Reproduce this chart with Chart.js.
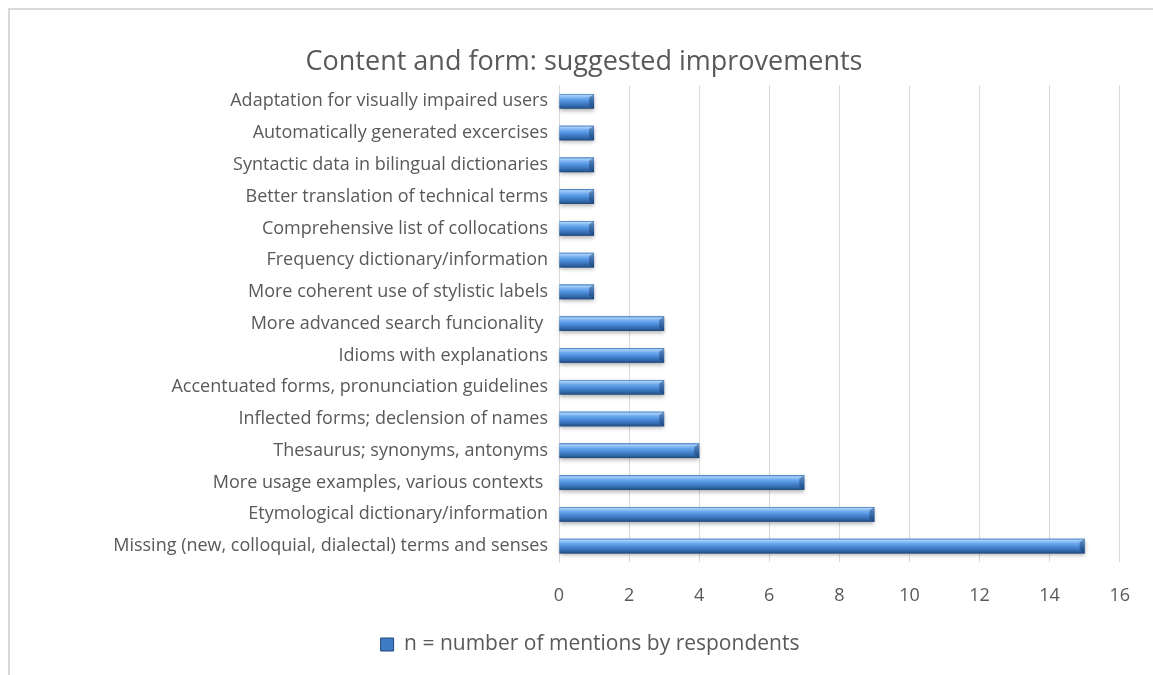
<!DOCTYPE html>
<html>
<head>
<meta charset="utf-8">
<script src="https://cdn.jsdelivr.net/npm/chart.js@4.4.1/dist/chart.umd.min.js"></script>
<style>
  html, body { margin: 0; padding: 0; background: #fff; }
  #wrap { position: relative; width: 1153px; height: 675px; }
  #frame { position: absolute; left: 8px; top: 8px; right: 0; bottom: 0; border-top: 2px solid #d9d9d9; border-left: 2px solid #d9d9d9; }
  canvas { position: absolute; left: 0; top: 0; }
</style>
</head>
<body>
<div id="wrap">
  <div id="frame"></div>
  <canvas id="improvementsChart" width="1153" height="675"></canvas>
</div>
<script>
const categories = [
    "Adaptation for visually impaired users",
    "Automatically generated excercises",
    "Syntactic data in bilingual dictionaries",
    "Better translation of technical terms",
    "Comprehensive list of collocations",
    "Frequency dictionary/information",
    "More coherent use of stylistic labels",
    "More advanced search funcionality ",
    "Idioms with explanations",
    "Accentuated forms, pronunciation guidelines",
    "Inflected forms; declension of names",
    "Thesaurus; synonyms, antonyms",
    "More usage examples, various contexts ",
    "Etymological dictionary/information",
    "Missing (new, colloquial, dialectal) terms and senses"
];
const mentions = [1, 1, 1, 1, 1, 1, 1, 3, 3, 3, 3, 4, 7, 9, 15];
const xTicks = [0, 2, 4, 6, 8, 10, 12, 14, 16];
const seriesLabel = "n = number of mentions by respondents";

const textColor = "#595959";
const fontFamily = "'Open Sans', 'Liberation Sans', sans-serif";

// gives the flat bars an Excel-like bevel
const bevelBars = {
    id: 'bevelBars',
    afterDatasetsDraw(chart) {
        const ctx = chart.ctx;
        chart.getDatasetMeta(0).data.forEach(bar => {
            const left = Math.min(bar.base, bar.x);
            const right = Math.max(bar.base, bar.x);
            const top = bar.y - bar.height / 2;
            const h = bar.height;
            const w = right - left;

            ctx.save();
            ctx.shadowColor = 'rgba(0,0,0,0.3)';
            ctx.shadowBlur = 4;
            ctx.shadowOffsetY = 2;
            const g = ctx.createLinearGradient(0, top, 0, top + h);
            g.addColorStop(0, '#3d78c0');
            g.addColorStop(0.1, '#a8d0fa');
            g.addColorStop(0.3, '#6eaaf0');
            g.addColorStop(0.55, '#4a8ad6');
            g.addColorStop(0.85, '#2f65a8');
            g.addColorStop(1, '#1f4677');
            ctx.fillStyle = g;
            ctx.fillRect(left, top, w, h);
            ctx.restore();

            // right end bevel
            const b = Math.min(5, w / 3);
            ctx.save();
            ctx.fillStyle = 'rgba(20,50,90,0.4)';
            ctx.beginPath();
            ctx.moveTo(right, top);
            ctx.lineTo(right - b, top + b * 0.7);
            ctx.lineTo(right - b, top + h - b * 0.7);
            ctx.lineTo(right, top + h);
            ctx.closePath();
            ctx.fill();
            ctx.restore();
        });
    }
};

// nudge the legend so it sits where the original has it
const shiftLegend = {
    id: 'shiftLegend',
    afterLayout(chart) {
        chart.legend.left += 6;
        chart.legend.right += 6;
    }
};

const ctx = document.getElementById('improvementsChart').getContext('2d');
new Chart(ctx, {
    type: 'bar',
    data: {
        labels: categories,
        datasets: [{
            label: seriesLabel,
            data: mentions,
            backgroundColor: '#4a8ad6',
            borderWidth: 0,
            categoryPercentage: 1,
            barPercentage: 0.46
        }]
    },
    plugins: [bevelBars, shiftLegend],
    options: {
        indexAxis: 'y',
        responsive: false,
        animation: false,
        layout: { padding: { top: 46, right: 32, bottom: 10, left: 47 } },
        plugins: {
            title: {
                display: true,
                text: 'Content and form: suggested improvements',
                color: textColor,
                font: { family: fontFamily, size: 27, weight: 'normal' },
                padding: { top: 0, bottom: 7 }
            },
            legend: {
                position: 'bottom',
                labels: {
                    color: textColor,
                    font: { family: fontFamily, size: 21 },
                    boxWidth: 13,
                    boxHeight: 13,
                    padding: 10,
                    generateLabels: () => [{
                        text: seriesLabel,
                        fillStyle: '#3f7cc6',
                        strokeStyle: '#22497a',
                        lineWidth: 1,
                        fontColor: textColor
                    }]
                }
            },
            tooltip: { enabled: false }
        },
        scales: {
            x: {
                min: 0,
                max: 16,
                afterBuildTicks: scale => { scale.ticks = xTicks.map(v => ({ value: v })); },
                afterFit: scale => { scale.height = 62; },
                ticks: {
                    color: textColor,
                    font: { family: fontFamily, size: 18 },
                    padding: 23
                },
                grid: { color: '#d9d9d9', drawTicks: false },
                border: { display: false }
            },
            y: {
                afterFit: scale => { scale.width = 512; },
                ticks: {
                    color: textColor,
                    font: { family: fontFamily, size: 18 },
                    padding: 11,
                    autoSkip: false
                },
                grid: { display: false, drawTicks: false },
                border: { display: true, color: '#d9d9d9' }
            }
        }
    }
});
</script>
</body>
</html>
